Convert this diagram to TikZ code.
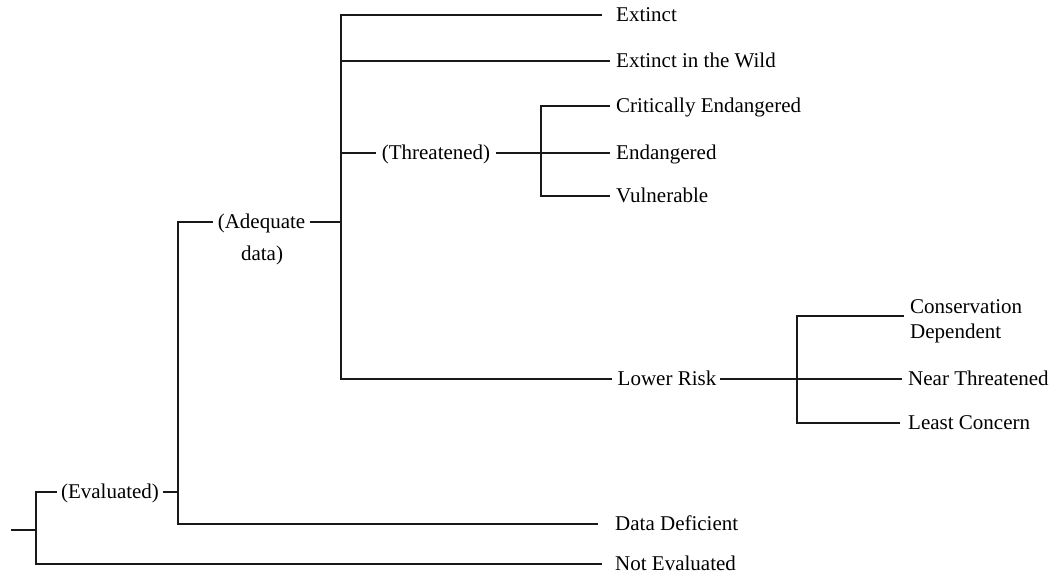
\documentclass[tikz,border=0pt]{standalone}
\usepackage{fontspec}
\setmainfont{Liberation Serif}
\newcommand\lblfont{\fontsize{21}{25}\selectfont}
\tikzset{
  leaf/.style={anchor=west, inner xsep=6pt, inner ysep=0pt, text height=15pt, text depth=3pt, font=\lblfont},
  mid/.style={inner xsep=4pt, inner ysep=0pt, text height=15pt, text depth=3pt, font=\lblfont},
  conn/.style={line width=1.1pt, black!90}
}
\begin{document}
\begin{tikzpicture}[x=1pt, y=-1pt]
\useasboundingbox (0,0) rectangle (1057,576);

% column coordinates
\coordinate (x0) at (36,0);
\coordinate (x1) at (178,0);
\coordinate (x2) at (341,0);
\coordinate (x3) at (541,0);
\coordinate (x4) at (797,0);
\coordinate (r) at (11,530);
\coordinate (cdj) at (797,316);

% internal labels
\node[mid] (ev) at (110,492) {(Evaluated)};
\node[mid, inner xsep=5pt] (adq) at (261.5,222) {(Adequate};
\node[mid] (adq2) at (262,254) {data)};
\node[mid, inner xsep=6pt] (thr) at (436,153) {(Threatened)};
\node[mid] (lr) at (667,379) {Lower Risk};

% leaves
\node[leaf] (ex) at (610,15) {Extinct};
\node[leaf] (ew) at (610,61) {Extinct in the Wild};
\node[leaf] (ce) at (610,106) {Critically Endangered};
\node[leaf] (en) at (610,153) {Endangered};
\node[leaf] (vu) at (610,196) {Vulnerable};
\node[anchor=west, inner xsep=6pt, inner ysep=0pt, align=left, font=\lblfont] (cd) at (904,321) {Conservation\\Dependent};
\node[leaf] (nt) at (902,379) {Near Threatened};
\node[leaf] (lc) at (902,423) {Least Concern};
\node[leaf] (dd) at (609,524) {Data Deficient};
\node[leaf] (ne) at (609,564) {Not Evaluated};

% root
\draw[conn] (r) -- (r -| x0);
\draw[conn] (ev.west) -- (ev.west -| x0) |- ([xshift=-7pt]ne.west);

% evaluated
\draw[conn] (ev.east) -- (ev.east -| x1);
\draw[conn] (adq.west) -- (adq.west -| x1) |- ([xshift=-11pt]dd.west);

% adequate data
\draw[conn] (adq.east) -- (adq.east -| x2);
\draw[conn] ([xshift=-8pt]ex.west) -- (ex.west -| x2) |- ([xshift=-2pt]lr.west);
\draw[conn] (ew.west) -- (ew.west -| x2);
\draw[conn] (thr.west) -- (thr.west -| x2);

% threatened
\draw[conn] (thr.east) -- (en.west);
\draw[conn] (ce.west) -- (ce.west -| x3) |- (vu.west);

% lower risk
\draw[conn] (lr.east) -- (nt.west);
\draw[conn] (cdj -| cd.west) -- (cdj) |- ([xshift=-2pt]lc.west);
\end{tikzpicture}
\end{document}
